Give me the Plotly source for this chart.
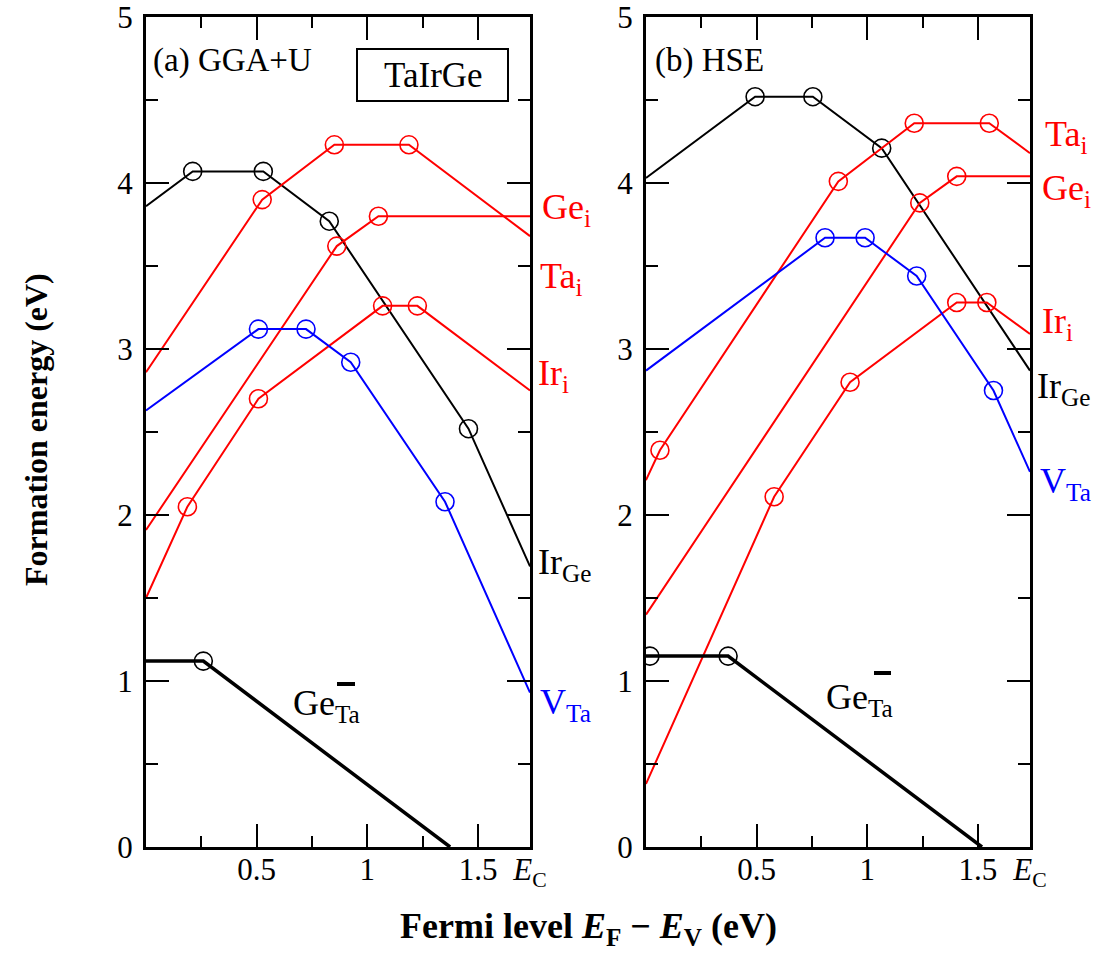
import plotly.graph_objects as go
from plotly.subplots import make_subplots

# Conduction band edge (eV) used as right limit of both panels
EC = 1.735

# ---- (a) GGA+U: formation-energy vertices (Fermi level, energy) ----
gga_IrGe_x = [0, 0.211, 0.530, 0.828, 1.457, EC]
gga_IrGe_y = [3.86, 4.07, 4.07, 3.77, 2.52, 1.69]
gga_Tai_x = [0, 0.525, 0.851, 1.188, EC]
gga_Tai_y = [2.86, 3.90, 4.23, 4.23, 3.68]
gga_Gei_x = [0, 0.862, 1.050, EC]
gga_Gei_y = [1.91, 3.62, 3.80, 3.80]
gga_Iri_x = [0, 0.187, 0.508, 1.069, 1.226, EC]
gga_Iri_y = [1.50, 2.05, 2.70, 3.26, 3.26, 2.75]
gga_VTa_x = [0, 0.508, 0.723, 0.925, 1.351, EC]
gga_VTa_y = [2.63, 3.12, 3.12, 2.92, 2.08, 0.93]
gga_GeTa_x = [0, 0.259, 1.374]
gga_GeTa_y = [1.12, 1.12, 0.0]

# ---- (b) HSE ----
hse_IrGe_x = [0, 0.493, 0.754, 1.065, EC]
hse_IrGe_y = [4.03, 4.52, 4.52, 4.21, 2.87]
hse_Tai_x = [0, 0.063, 0.869, 1.212, 1.551, EC]
hse_Tai_y = [2.21, 2.39, 4.01, 4.36, 4.36, 4.18]
hse_Gei_x = [0, 1.237, 1.404, EC]
hse_Gei_y = [1.40, 3.88, 4.04, 4.04]
hse_Iri_x = [0, 0.579, 0.922, 1.404, 1.540, EC]
hse_Iri_y = [0.38, 2.11, 2.80, 3.28, 3.28, 3.09]
hse_VTa_x = [0, 0.809, 0.990, 1.223, 1.570, EC]
hse_VTa_y = [2.87, 3.67, 3.67, 3.44, 2.75, 2.26]
hse_GeTa_x = [0, 0.018, 0.371, 1.518]
hse_GeTa_y = [1.15, 1.15, 1.15, 0.0]

x_tickvals = [0.5, 1, 1.5, EC]
x_ticktext = ["0.5", "1", "1.5", "<i>E</i><sub>C</sub>"]
y_tickvals = [0, 1, 2, 3, 4, 5]

RED, BLUE, BLACK = "#ff0000", "#0000ff", "#000000"
FONT = "Liberation Serif"

fig = make_subplots(rows=1, cols=2, horizontal_spacing=0.1312)


def add_defect(xs, ys, color, col, width=2.0):
    # piecewise-linear formation energy
    fig.add_trace(go.Scatter(x=xs, y=ys, mode="lines",
                             line=dict(color=color, width=width),
                             hoverinfo="skip", showlegend=False), row=1, col=col)
    # transition levels as open circles (interior vertices)
    fig.add_trace(go.Scatter(x=xs[1:-1], y=ys[1:-1], mode="markers",
                             marker=dict(symbol="circle-open", size=18, color=color,
                                         line=dict(color=color, width=1.6)),
                             hoverinfo="skip", showlegend=False), row=1, col=col)


add_defect(gga_IrGe_x, gga_IrGe_y, BLACK, 1)
add_defect(gga_Tai_x, gga_Tai_y, RED, 1)
add_defect(gga_Gei_x, gga_Gei_y, RED, 1)
add_defect(gga_Iri_x, gga_Iri_y, RED, 1)
add_defect(gga_VTa_x, gga_VTa_y, BLUE, 1)
add_defect(gga_GeTa_x, gga_GeTa_y, BLACK, 1, width=3.5)

add_defect(hse_IrGe_x, hse_IrGe_y, BLACK, 2)
add_defect(hse_Tai_x, hse_Tai_y, RED, 2)
add_defect(hse_Gei_x, hse_Gei_y, RED, 2)
add_defect(hse_Iri_x, hse_Iri_y, RED, 2)
add_defect(hse_VTa_x, hse_VTa_y, BLUE, 2)
add_defect(hse_GeTa_x, hse_GeTa_y, BLACK, 2, width=3.5)

axis_common = dict(showline=True, linewidth=3, linecolor="black", mirror="ticks",
                   ticks="inside", tickwidth=2, tickcolor="black", showgrid=False,
                   zeroline=False, ticklabeloverflow="allow", automargin=False,
                   tickfont=dict(family=FONT, size=31, color="black"))

for c in (1, 2):
    fig.update_xaxes(range=[0, EC], tickmode="array", tickvals=x_tickvals,
                     ticktext=x_ticktext, ticklen=23, ticklabelstandoff=-7,
                     minor=dict(tickmode="linear", tick0=0, dtick=0.25, ticks="inside",
                                ticklen=11, tickwidth=2, tickcolor="black"),
                     **axis_common, row=1, col=c)
    fig.update_yaxes(range=[0, 5], tickmode="array", tickvals=y_tickvals, ticklen=23,
                     ticklabelstandoff=4,
                     minor=dict(tickmode="linear", tick0=0, dtick=0.5, ticks="inside",
                                ticklen=12, tickwidth=2, tickcolor="black"),
                     **axis_common, row=1, col=c)

L, R, T, B = 146, 67, 17, 127
W, H = 1097, 974
PW, PH = W - L - R, H - T - B


def px(xp):
    return (xp - L) / PW


def py(yp):
    return (H - B - yp) / PH


annotations = []


def label(text, x, y, color="black", size=36, xanchor="left", yanchor="middle", **kw):
    annotations.append(dict(text=text, x=px(x), y=py(y), xref="paper", yref="paper",
                            xanchor=xanchor, yanchor=yanchor, showarrow=False,
                            font=dict(family=FONT, size=size, color=color), **kw))


# panel titles
label("(a) GGA+U", 151, 61, size=33)
label("(b) HSE", 653, 61, size=33)
label("TaIrGe", 433, 75, size=35, xanchor="center")

# defect labels, panel (a)
label("Ge<sub>i</sub>", 540, 210, RED)
label("Ta<sub>i</sub>", 538, 278, RED)
label("Ir<sub>i</sub>", 536, 375, RED)
label("Ir<sub>Ge</sub>", 536, 564, BLACK)
label("V<sub>Ta</sub>", 538, 704, BLUE)
label("Ge<sub>Ta</sub>", 291, 705, BLACK)

# defect labels, panel (b)
label("Ta<sub>i</sub>", 1043, 136, RED)
label("Ge<sub>i</sub>", 1040, 190, RED)
label("Ir<sub>i</sub>", 1040, 323, RED)
label("Ir<sub>Ge</sub>", 1035, 388, BLACK)
label("V<sub>Ta</sub>", 1038, 483, BLUE)
label("Ge<sub>Ta</sub>", 824, 699, BLACK)

# axis titles
label("<b>Formation energy (eV)</b>", 36, 430, size=32, xanchor="center",
      textangle=-90)
label("<b>Fermi level <i>E</i><sub>F</sub> − <i>E</i><sub>V</sub> (eV)</b>", 588, 928,
      size=36, xanchor="center")

shapes = [
    # box around the compound name
    dict(type="rect", xref="paper", yref="paper", x0=px(357), x1=px(508),
         y0=py(101), y1=py(49), line=dict(color="black", width=2)),
    # charge-state bars on Ge_Ta labels
    dict(type="rect", xref="paper", yref="paper", x0=px(337), x1=px(355),
         y0=py(686), y1=py(682), line=dict(width=0), fillcolor="black"),
    dict(type="rect", xref="paper", yref="paper", x0=px(874), x1=px(891),
         y0=py(675), y1=py(671), line=dict(width=0), fillcolor="black"),
]

fig.update_layout(width=W, height=H, margin=dict(l=L, r=R, t=T, b=B),
                  paper_bgcolor="white", plot_bgcolor="white",
                  annotations=annotations, shapes=shapes,
                  font=dict(family=FONT, color="black"))

fig.write_html("out.html")
